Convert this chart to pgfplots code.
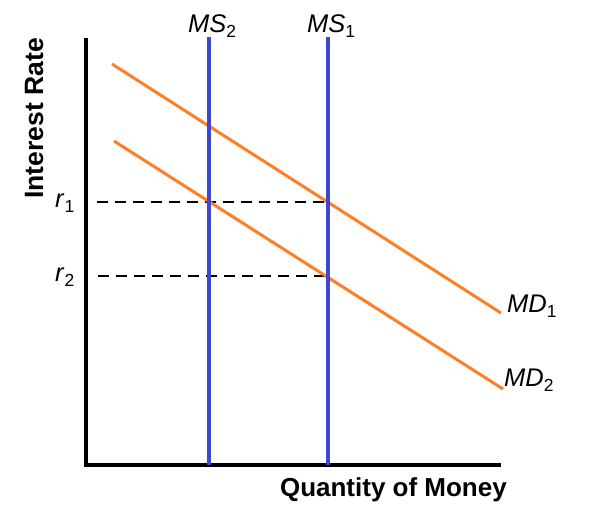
\documentclass[border=0pt]{standalone}
\usepackage{pgfplots}
\pgfplotsset{compat=1.18}
\usepackage{fontspec}
\setmainfont{Liberation Sans}

\definecolor{mdorange}{RGB}{255,127,39}
\definecolor{msblue}{RGB}{63,72,204}

% subscript in the label font
\newcommand{\sub}[1]{\raisebox{-5pt}{\fontsize{17.5}{17.5}\selectfont #1}}

\begin{document}
\begin{tikzpicture}
\begin{axis}[
    scale only axis,
    width=590pt, height=520pt,
    xmin=0, xmax=590,
    ymin=0, ymax=520,
    hide axis,
    clip=false,
]
    \path (axis cs:0,0) rectangle (axis cs:590,520);

    % axes
    \addplot[black, line width=3.3pt, line join=miter] coordinates {(86,482) (86,55) (501,55)};

    % r1, r2 guides
    \addplot[black, line width=2pt, dash pattern=on 11pt off 7pt] coordinates {(97,318) (328,318)};
    \addplot[black, line width=2pt, dash pattern=on 11pt off 7pt] coordinates {(98,244) (328,244)};

    % money demand
    \addplot[mdorange, line width=3pt] coordinates {(112,456) (501,207)};
    \addplot[mdorange, line width=3pt] coordinates {(114,379) (503,131)};

    % money supply
    \addplot[msblue, line width=3.5pt] coordinates {(209,55) (209,483)};
    \addplot[msblue, line width=3.5pt] coordinates {(328,55) (328,483)};

    % labels
    \node[anchor=base, font=\fontsize{25.5}{25.5}\selectfont] at (axis cs:212,487) {\textit{MS}\sub{2}};
    \node[anchor=base, font=\fontsize{25.5}{25.5}\selectfont] at (axis cs:331,487) {\textit{MS}\sub{1}};
    \node[anchor=base west, inner sep=0pt, font=\fontsize{25.5}{25.5}\selectfont] at (axis cs:507,207) {\textit{MD}\sub{1}};
    \node[anchor=base west, inner sep=0pt, font=\fontsize{25.5}{25.5}\selectfont] at (axis cs:504,133) {\textit{MD}\sub{2}};
    \node[anchor=base west, inner sep=0pt, font=\fontsize{25.5}{25.5}\selectfont] at (axis cs:55,312) {\textit{r}\sub{1}};
    \node[anchor=base west, inner sep=0pt, font=\fontsize{25.5}{25.5}\selectfont] at (axis cs:55,238) {\textit{r}\sub{2}};

    \node[anchor=base east, inner sep=0pt, font=\fontsize{26}{26}\selectfont\bfseries] at (axis cs:507,23) {Quantity of Money};
    \node[rotate=90, anchor=base east, inner sep=0pt, font=\fontsize{26.5}{26.5}\selectfont\bfseries] at (axis cs:43,482) {Interest Rate};
\end{axis}
\end{tikzpicture}
\end{document}
